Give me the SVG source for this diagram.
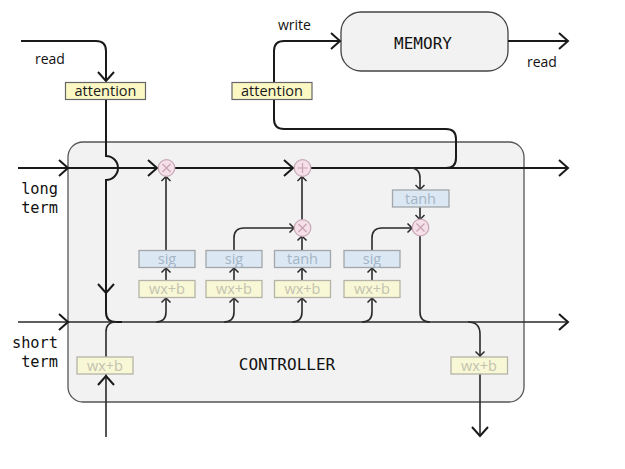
<svg xmlns="http://www.w3.org/2000/svg" xmlns:xlink="http://www.w3.org/1999/xlink" width="625" height="469" viewBox="0 0 625 469">
<style>
.bg{fill:#fff}
.ctrl{fill:#f2f2f2;stroke:#555;stroke-width:1.3}
.mem{fill:#f2f2f2;stroke:#444;stroke-width:1.3}
.main{fill:none;stroke:#1a1a1a;stroke-width:2}
.thin{fill:none;stroke:#2a2a2a;stroke-width:1.6}
.chev{fill:none;stroke:#1a1a1a;stroke-width:2}
.chs{fill:none;stroke:#2a2a2a;stroke-width:1.5}
.att{fill:#fbf8c4;stroke:#666;stroke-width:1.2}
.blue{fill:#dbe7f3;stroke:#a2a6aa;stroke-width:1.3}
.yel{fill:#f8f7d6;stroke:#b4b4a6;stroke-width:1.3}
.circ{fill:#f5dfe8;stroke:#c7a7b5;stroke-width:1.2}
.op{fill:none;stroke:#c8a2b2;stroke-width:1.2}
.sans{font-family:"Open Sans","Noto Sans",sans-serif}
.mono{font-family:"DejaVu Sans Mono","Liberation Mono",monospace;fill:#111}
.lbl{font-size:14px;fill:#111}
.g{font-size:14.5px;text-anchor:middle}
.gb{fill:#a4b5c6}
.gy{fill:#c3c3ae}
.at{font-size:14.5px;text-anchor:middle;fill:#1a1a1a}
</style>
<defs>
<path id="big" d="M -9 -8 L 0 0 L -9 8" class="chev"/>
<path id="sm" d="M -4.5 -4.5 L 0 0 L -4.5 4.5" class="chs"/>
</defs>
<rect class="bg" x="0" y="0" width="625" height="469"/>

<g id="controller">
<rect class="ctrl" x="68" y="142" width="456" height="260" rx="15"/>
<text class="mono" x="287" y="370" font-size="16" text-anchor="middle">CONTROLLER</text>
</g>

<g id="memory">
<rect class="mem" x="341" y="12" width="167" height="59" rx="20"/>
<text class="mono" x="423" y="48.5" font-size="16" text-anchor="middle">MEMORY</text>
</g>

<g id="connectors">
<!-- long term line -->
<path class="main" d="M 18 168 L 568 168"/>
<!-- short term line -->
<path class="thin" d="M 18 322 L 568 322"/>
<!-- read path left -->
<path class="main" d="M 21 41 L 96 41 Q 106 41 106 51 L 106 81"/>
<path class="main" d="M 106 99 L 106 156 A 12 12 0 0 1 106 180 L 106 312 Q 106 322 116 322 L 122 322"/>
<!-- bottom input -->
<path class="thin" d="M 106 437 L 106 332 Q 106 322 116 322"/>
<!-- write path -->
<path class="main" d="M 446 168 Q 456 168 456 158 L 456 139 Q 456 129 446 129 L 284 129 Q 274 129 274 119 L 274 51 Q 274 41 284 41 L 340 41"/>
<!-- memory read output -->
<path class="main" d="M 508 41 L 568 41"/>
<!-- column 1 -->
<path class="thin" d="M 156 322 Q 166 322 166 312 L 166 298 M 166 281 L 166 268 M 166 250 L 166 176.5"/>
<!-- column 2 -->
<path class="thin" d="M 224 322 Q 234 322 234 312 L 234 298 M 234 281 L 234 268 M 234 250 L 234 238 Q 234 228 244 228 L 294 228"/>
<!-- column 3 -->
<path class="thin" d="M 292 322 Q 302 322 302 312 L 302 298 M 302 281 L 302 268 M 302 250 L 302 236 M 302 220 L 302 176.5"/>
<!-- column 4 -->
<path class="thin" d="M 362 322 Q 372 322 372 312 L 372 298 M 372 281 L 372 268 M 372 250 L 372 238 Q 372 228 382 228 L 412 228"/>
<!-- right -->
<path class="thin" d="M 410 168 Q 420 168 420 178 L 420 189.5 M 420 207 L 420 219 M 420 236 L 420 312 Q 420 322 430 322"/>
<path class="thin" d="M 468 322 Q 480 322 480 334 L 480 436"/>

<!-- big arrowheads -->
<use xlink:href="#big" transform="translate(106,81) rotate(90)"/>
<use xlink:href="#big" transform="translate(106,293) rotate(90)"/>
<use xlink:href="#big" transform="translate(68,168)"/>
<use xlink:href="#big" transform="translate(157,168)"/>
<use xlink:href="#big" transform="translate(293,168)"/>
<use xlink:href="#big" transform="translate(568,168)"/>
<use xlink:href="#big" transform="translate(68,322)"/>
<use xlink:href="#big" transform="translate(568,322)"/>
<use xlink:href="#big" transform="translate(340,41)"/>
<use xlink:href="#big" transform="translate(568,41)"/>
<use xlink:href="#big" transform="translate(106,376) rotate(-90)"/>
<use xlink:href="#big" transform="translate(480,436) rotate(90)"/>
<!-- small arrowheads -->
<use xlink:href="#sm" transform="translate(166,298) rotate(-90)"/>
<use xlink:href="#sm" transform="translate(166,268) rotate(-90)"/>
<use xlink:href="#sm" transform="translate(166,176.5) rotate(-90)"/>
<use xlink:href="#sm" transform="translate(234,298) rotate(-90)"/>
<use xlink:href="#sm" transform="translate(234,268) rotate(-90)"/>
<use xlink:href="#sm" transform="translate(294,228)"/>
<use xlink:href="#sm" transform="translate(302,298) rotate(-90)"/>
<use xlink:href="#sm" transform="translate(302,268) rotate(-90)"/>
<use xlink:href="#sm" transform="translate(302,236) rotate(-90)"/>
<use xlink:href="#sm" transform="translate(302,176.5) rotate(-90)"/>
<use xlink:href="#sm" transform="translate(372,298) rotate(-90)"/>
<use xlink:href="#sm" transform="translate(372,268) rotate(-90)"/>
<use xlink:href="#sm" transform="translate(412,228)"/>
<use xlink:href="#sm" transform="translate(420,189.5) rotate(90)"/>
<use xlink:href="#sm" transform="translate(420,219.5) rotate(90)"/>
<use xlink:href="#sm" transform="translate(480,356) rotate(90)"/>
</g>

<g id="labels" class="sans lbl">
<text x="35" y="64">read</text>
<text x="278" y="30">write</text>
<text x="527" y="67">read</text>
</g>
<g id="term-labels" class="mono" font-size="15.3" text-anchor="end">
<text x="58" y="194">long</text>
<text x="58" y="213">term</text>
<text x="58" y="348">short</text>
<text x="58" y="367">term</text>
</g>

<g id="attention-read">
<rect class="att" x="65.5" y="82.5" width="80" height="17"/>
<text class="sans at" x="105.5" y="96">attention</text>
</g>
<g id="attention-write">
<rect class="att" x="232" y="82.5" width="80" height="17"/>
<text class="sans at" x="272" y="96">attention</text>
</g>

<g id="gate-sig1">
<rect class="blue" x="139" y="250.5" width="56" height="17"/>
<text class="sans g gb" x="167" y="264">sig</text>
</g>
<g id="gate-wxb1">
<rect class="yel" x="139" y="280.5" width="56" height="17"/>
<text class="sans g gy" x="167" y="294">wx+b</text>
</g>
<g id="gate-sig2">
<rect class="blue" x="206" y="250.5" width="56" height="17"/>
<text class="sans g gb" x="234" y="264">sig</text>
</g>
<g id="gate-wxb2">
<rect class="yel" x="206" y="280.5" width="56" height="17"/>
<text class="sans g gy" x="234" y="294">wx+b</text>
</g>
<g id="gate-tanh3">
<rect class="blue" x="274.5" y="250.5" width="56" height="17"/>
<text class="sans g gb" x="302.5" y="264">tanh</text>
</g>
<g id="gate-wxb3">
<rect class="yel" x="274.5" y="280.5" width="56" height="17"/>
<text class="sans g gy" x="302.5" y="294">wx+b</text>
</g>
<g id="gate-sig4">
<rect class="blue" x="344" y="250.5" width="56" height="17"/>
<text class="sans g gb" x="372" y="264">sig</text>
</g>
<g id="gate-wxb4">
<rect class="yel" x="344" y="280.5" width="56" height="17"/>
<text class="sans g gy" x="372" y="294">wx+b</text>
</g>
<g id="gate-tanh-out">
<rect class="blue" x="392.5" y="190" width="56.5" height="17"/>
<text class="sans g gb" x="420.5" y="203.5">tanh</text>
</g>
<g id="wxb-in">
<rect class="yel" x="77" y="357" width="56" height="17"/>
<text class="sans g gy" x="105" y="370.5">wx+b</text>
</g>
<g id="wxb-out">
<rect class="yel" x="451" y="357" width="56.5" height="17"/>
<text class="sans g gy" x="479" y="370.5">wx+b</text>
</g>

<g id="mul1">
<circle class="circ" cx="166.5" cy="168" r="8.3"/>
<path class="op" d="M 162.5 164 L 170.5 172 M 170.5 164 L 162.5 172"/>
</g>
<g id="add1">
<circle class="circ" cx="302.5" cy="168" r="8.3"/>
<path class="op" d="M 302.5 163 L 302.5 173 M 297.5 168 L 307.5 168"/>
</g>
<g id="mul2">
<circle class="circ" cx="302.5" cy="228" r="8.3"/>
<path class="op" d="M 298.5 224 L 306.5 232 M 306.5 224 L 298.5 232"/>
</g>
<g id="mul3">
<circle class="circ" cx="420.5" cy="227.5" r="8.3"/>
<path class="op" d="M 416.5 223.5 L 424.5 231.5 M 424.5 223.5 L 416.5 231.5"/>
</g>
</svg>
